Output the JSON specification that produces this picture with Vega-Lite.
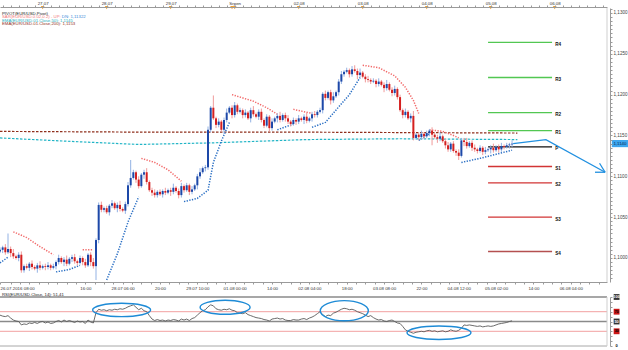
{
"$schema":"https://vega.github.io/schema/vega-lite/v6.json",
"width":607,"height":338,
"autosize":{"type":"none"},
"padding":{"left":0,"top":8,"right":21,"bottom":4},
"background":"#ffffff",
"config":{"font":"Liberation Sans","view":{"stroke":null},"axis":{"grid":false,"labelFont":"Liberation Sans"}},
"datasets":{
"one":[{}],
"candles":[
{"t":0,"o":1.1008,"h":1.1013,"l":1.1006,"c":1.1010},{"t":1,"o":1.1010,"h":1.1015,"l":1.1006,"c":1.1013},{"t":2,"o":1.1013,"h":1.1017,"l":1.1004,"c":1.1007},{"t":3,"o":1.1007,"h":1.1030,"l":1.1005,"c":1.1011},{"t":4,"o":1.1011,"h":1.1014,"l":1.1001,"c":1.1006},{"t":5,"o":1.1006,"h":1.1011,"l":1.0999,"c":1.1002},{"t":6,"o":1.1002,"h":1.1004,"l":1.0998,"c":1.1000},{"t":7,"o":1.1000,"h":1.1007,"l":1.0996,"c":1.1004},{"t":8,"o":1.1004,"h":1.1008,"l":1.0982,"c":1.0985},{"t":9,"o":1.0985,"h":1.0992,"l":1.0982,"c":1.0990},
{"t":10,"o":1.0990,"h":1.0993,"l":1.0986,"c":1.0988},{"t":11,"o":1.0988,"h":1.0995,"l":1.0984,"c":1.0993},{"t":12,"o":1.0993,"h":1.0997,"l":1.0986,"c":1.0989},{"t":13,"o":1.0989,"h":1.0991,"l":1.0985,"c":1.0987},{"t":14,"o":1.0987,"h":1.0994,"l":1.0982,"c":1.0991},{"t":15,"o":1.0991,"h":1.0996,"l":1.0985,"c":1.0988},{"t":16,"o":1.0988,"h":1.0992,"l":1.0986,"c":1.0990},{"t":17,"o":1.0990,"h":1.0993,"l":1.0985,"c":1.0989},{"t":18,"o":1.0989,"h":1.0995,"l":1.0986,"c":1.0991},{"t":19,"o":1.0991,"h":1.0993,"l":1.0985,"c":1.0988},
{"t":20,"o":1.0988,"h":1.0993,"l":1.0986,"c":1.0990},{"t":21,"o":1.0990,"h":1.0997,"l":1.0986,"c":1.0995},{"t":22,"o":1.0995,"h":1.1004,"l":1.0992,"c":1.1000},{"t":23,"o":1.1000,"h":1.1002,"l":1.0993,"c":1.0995},{"t":24,"o":1.0995,"h":1.1001,"l":1.0990,"c":1.0998},{"t":25,"o":1.0998,"h":1.1003,"l":1.0990,"c":1.0993},{"t":26,"o":1.0993,"h":1.1001,"l":1.0991,"c":1.0999},{"t":27,"o":1.0999,"h":1.1004,"l":1.0995,"c":1.1001},{"t":28,"o":1.1001,"h":1.1005,"l":1.0993,"c":1.0996},{"t":29,"o":1.0996,"h":1.0998,"l":1.0991,"c":1.0994},
{"t":30,"o":1.0994,"h":1.1003,"l":1.0992,"c":1.1000},{"t":31,"o":1.1000,"h":1.1002,"l":1.0991,"c":1.0995},{"t":32,"o":1.0995,"h":1.0999,"l":1.0988,"c":1.0991},{"t":33,"o":1.0991,"h":1.1006,"l":1.0989,"c":1.1004},{"t":34,"o":1.1004,"h":1.1007,"l":1.0990,"c":1.0995},{"t":35,"o":1.0995,"h":1.1000,"l":1.0987,"c":1.0990},{"t":36,"o":1.0990,"h":1.1024,"l":1.0973,"c":1.1022},{"t":37,"o":1.1022,"h":1.1068,"l":1.1018,"c":1.1065},{"t":38,"o":1.1065,"h":1.1069,"l":1.1056,"c":1.1059},{"t":39,"o":1.1059,"h":1.1063,"l":1.1056,"c":1.1061},
{"t":40,"o":1.1061,"h":1.1064,"l":1.1054,"c":1.1056},{"t":41,"o":1.1056,"h":1.1066,"l":1.1052,"c":1.1064},{"t":42,"o":1.1064,"h":1.1071,"l":1.1061,"c":1.1067},{"t":43,"o":1.1067,"h":1.1069,"l":1.1059,"c":1.1061},{"t":44,"o":1.1061,"h":1.1068,"l":1.1056,"c":1.1065},{"t":45,"o":1.1065,"h":1.1070,"l":1.1057,"c":1.1060},{"t":46,"o":1.1060,"h":1.1062,"l":1.1056,"c":1.1058},{"t":47,"o":1.1058,"h":1.1069,"l":1.1054,"c":1.1066},{"t":48,"o":1.1066,"h":1.1093,"l":1.1063,"c":1.1089},{"t":49,"o":1.1089,"h":1.1120,"l":1.1086,"c":1.1098},
{"t":50,"o":1.1098,"h":1.1108,"l":1.1096,"c":1.1105},{"t":51,"o":1.1105,"h":1.1107,"l":1.1092,"c":1.1096},{"t":52,"o":1.1096,"h":1.1100,"l":1.1085,"c":1.1088},{"t":53,"o":1.1088,"h":1.1104,"l":1.1086,"c":1.1102},{"t":54,"o":1.1102,"h":1.1108,"l":1.1097,"c":1.1105},{"t":55,"o":1.1105,"h":1.1110,"l":1.1090,"c":1.1093},{"t":56,"o":1.1093,"h":1.1095,"l":1.1081,"c":1.1083},{"t":57,"o":1.1083,"h":1.1086,"l":1.1076,"c":1.1080},{"t":58,"o":1.1080,"h":1.1084,"l":1.1074,"c":1.1077},{"t":59,"o":1.1077,"h":1.1083,"l":1.1074,"c":1.1081},
{"t":60,"o":1.1081,"h":1.1084,"l":1.1076,"c":1.1078},{"t":61,"o":1.1078,"h":1.1084,"l":1.1074,"c":1.1082},{"t":62,"o":1.1082,"h":1.1086,"l":1.1077,"c":1.1080},{"t":63,"o":1.1080,"h":1.1085,"l":1.1078,"c":1.1083},{"t":64,"o":1.1083,"h":1.1086,"l":1.1076,"c":1.1081},{"t":65,"o":1.1081,"h":1.1091,"l":1.1078,"c":1.1086},{"t":66,"o":1.1086,"h":1.1088,"l":1.1080,"c":1.1082},{"t":67,"o":1.1082,"h":1.1085,"l":1.1073,"c":1.1077},{"t":68,"o":1.1077,"h":1.1092,"l":1.1074,"c":1.1088},{"t":69,"o":1.1088,"h":1.1090,"l":1.1080,"c":1.1083},
{"t":70,"o":1.1083,"h":1.1092,"l":1.1081,"c":1.1089},{"t":71,"o":1.1089,"h":1.1091,"l":1.1077,"c":1.1081},{"t":72,"o":1.1081,"h":1.1088,"l":1.1078,"c":1.1084},{"t":73,"o":1.1084,"h":1.1091,"l":1.1082,"c":1.1089},{"t":74,"o":1.1089,"h":1.1103,"l":1.1084,"c":1.1100},{"t":75,"o":1.1100,"h":1.1110,"l":1.1097,"c":1.1105},{"t":76,"o":1.1105,"h":1.1112,"l":1.1103,"c":1.1110},{"t":77,"o":1.1110,"h":1.1114,"l":1.1106,"c":1.1111},{"t":78,"o":1.1111,"h":1.1161,"l":1.1108,"c":1.1157},{"t":79,"o":1.1157,"h":1.1186,"l":1.1154,"c":1.1184},
{"t":80,"o":1.1184,"h":1.1199,"l":1.1169,"c":1.1171},{"t":81,"o":1.1171,"h":1.1173,"l":1.1159,"c":1.1163},{"t":82,"o":1.1163,"h":1.1171,"l":1.1160,"c":1.1167},{"t":83,"o":1.1167,"h":1.1169,"l":1.1155,"c":1.1157},{"t":84,"o":1.1157,"h":1.1172,"l":1.1152,"c":1.1169},{"t":85,"o":1.1169,"h":1.1183,"l":1.1166,"c":1.1178},{"t":86,"o":1.1178,"h":1.1186,"l":1.1176,"c":1.1184},{"t":87,"o":1.1184,"h":1.1187,"l":1.1171,"c":1.1175},{"t":88,"o":1.1175,"h":1.1191,"l":1.1172,"c":1.1187},{"t":89,"o":1.1187,"h":1.1189,"l":1.1176,"c":1.1179},
{"t":90,"o":1.1179,"h":1.1184,"l":1.1177,"c":1.1181},{"t":91,"o":1.1181,"h":1.1183,"l":1.1171,"c":1.1175},{"t":92,"o":1.1175,"h":1.1182,"l":1.1172,"c":1.1178},{"t":93,"o":1.1178,"h":1.1180,"l":1.1169,"c":1.1171},{"t":94,"o":1.1171,"h":1.1184,"l":1.1166,"c":1.1181},{"t":95,"o":1.1181,"h":1.1186,"l":1.1173,"c":1.1176},{"t":96,"o":1.1176,"h":1.1178,"l":1.1171,"c":1.1173},{"t":97,"o":1.1173,"h":1.1182,"l":1.1169,"c":1.1179},{"t":98,"o":1.1179,"h":1.1183,"l":1.1166,"c":1.1169},{"t":99,"o":1.1169,"h":1.1171,"l":1.1159,"c":1.1162},
{"t":100,"o":1.1162,"h":1.1176,"l":1.1160,"c":1.1173},{"t":101,"o":1.1173,"h":1.1175,"l":1.1155,"c":1.1159},{"t":102,"o":1.1159,"h":1.1171,"l":1.1156,"c":1.1167},{"t":103,"o":1.1167,"h":1.1173,"l":1.1165,"c":1.1171},{"t":104,"o":1.1171,"h":1.1177,"l":1.1166,"c":1.1174},{"t":105,"o":1.1174,"h":1.1179,"l":1.1166,"c":1.1169},{"t":106,"o":1.1169,"h":1.1177,"l":1.1167,"c":1.1175},{"t":107,"o":1.1175,"h":1.1178,"l":1.1167,"c":1.1171},{"t":108,"o":1.1171,"h":1.1175,"l":1.1164,"c":1.1167},{"t":109,"o":1.1167,"h":1.1169,"l":1.1161,"c":1.1164},
{"t":110,"o":1.1164,"h":1.1172,"l":1.1162,"c":1.1169},{"t":111,"o":1.1169,"h":1.1171,"l":1.1163,"c":1.1167},{"t":112,"o":1.1167,"h":1.1175,"l":1.1164,"c":1.1171},{"t":113,"o":1.1171,"h":1.1173,"l":1.1167,"c":1.1169},{"t":114,"o":1.1169,"h":1.1176,"l":1.1164,"c":1.1173},{"t":115,"o":1.1173,"h":1.1178,"l":1.1165,"c":1.1168},{"t":116,"o":1.1168,"h":1.1173,"l":1.1166,"c":1.1171},{"t":117,"o":1.1171,"h":1.1179,"l":1.1167,"c":1.1176},{"t":118,"o":1.1176,"h":1.1180,"l":1.1172,"c":1.1175},{"t":119,"o":1.1175,"h":1.1181,"l":1.1172,"c":1.1179},
{"t":120,"o":1.1179,"h":1.1184,"l":1.1177,"c":1.1181},{"t":121,"o":1.1181,"h":1.1203,"l":1.1177,"c":1.1201},{"t":122,"o":1.1201,"h":1.1205,"l":1.1193,"c":1.1196},{"t":123,"o":1.1196,"h":1.1205,"l":1.1194,"c":1.1203},{"t":124,"o":1.1203,"h":1.1206,"l":1.1188,"c":1.1193},{"t":125,"o":1.1193,"h":1.1203,"l":1.1190,"c":1.1198},{"t":126,"o":1.1198,"h":1.1205,"l":1.1196,"c":1.1203},{"t":127,"o":1.1203,"h":1.1219,"l":1.1199,"c":1.1216},{"t":128,"o":1.1216,"h":1.1229,"l":1.1213,"c":1.1225},{"t":129,"o":1.1225,"h":1.1230,"l":1.1222,"c":1.1228},
{"t":130,"o":1.1228,"h":1.1233,"l":1.1226,"c":1.1230},{"t":131,"o":1.1230,"h":1.1232,"l":1.1221,"c":1.1225},{"t":132,"o":1.1225,"h":1.1235,"l":1.1222,"c":1.1231},{"t":133,"o":1.1231,"h":1.1236,"l":1.1227,"c":1.1229},{"t":134,"o":1.1229,"h":1.1232,"l":1.1219,"c":1.1224},{"t":135,"o":1.1224,"h":1.1232,"l":1.1221,"c":1.1227},{"t":136,"o":1.1227,"h":1.1229,"l":1.1220,"c":1.1222},{"t":137,"o":1.1222,"h":1.1225,"l":1.1215,"c":1.1219},{"t":138,"o":1.1219,"h":1.1223,"l":1.1215,"c":1.1218},{"t":139,"o":1.1218,"h":1.1220,"l":1.1213,"c":1.1216},
{"t":140,"o":1.1216,"h":1.1220,"l":1.1214,"c":1.1217},{"t":141,"o":1.1217,"h":1.1219,"l":1.1209,"c":1.1213},{"t":142,"o":1.1213,"h":1.1220,"l":1.1210,"c":1.1216},{"t":143,"o":1.1216,"h":1.1218,"l":1.1210,"c":1.1212},{"t":144,"o":1.1212,"h":1.1215,"l":1.1203,"c":1.1208},{"t":145,"o":1.1208,"h":1.1218,"l":1.1205,"c":1.1213},{"t":146,"o":1.1213,"h":1.1215,"l":1.1204,"c":1.1206},{"t":147,"o":1.1206,"h":1.1209,"l":1.1198,"c":1.1202},{"t":148,"o":1.1202,"h":1.1211,"l":1.1199,"c":1.1207},{"t":149,"o":1.1207,"h":1.1209,"l":1.1194,"c":1.1197},
{"t":150,"o":1.1197,"h":1.1200,"l":1.1179,"c":1.1181},{"t":151,"o":1.1181,"h":1.1183,"l":1.1171,"c":1.1175},{"t":152,"o":1.1175,"h":1.1183,"l":1.1172,"c":1.1179},{"t":153,"o":1.1179,"h":1.1181,"l":1.1169,"c":1.1171},{"t":154,"o":1.1171,"h":1.1177,"l":1.1166,"c":1.1174},{"t":155,"o":1.1174,"h":1.1180,"l":1.1144,"c":1.1147},{"t":156,"o":1.1147,"h":1.1153,"l":1.1145,"c":1.1151},{"t":157,"o":1.1151,"h":1.1154,"l":1.1144,"c":1.1148},{"t":158,"o":1.1148,"h":1.1156,"l":1.1145,"c":1.1152},{"t":159,"o":1.1152,"h":1.1154,"l":1.1146,"c":1.1149},
{"t":160,"o":1.1149,"h":1.1156,"l":1.1147,"c":1.1153},{"t":161,"o":1.1153,"h":1.1158,"l":1.1149,"c":1.1156},{"t":162,"o":1.1156,"h":1.1160,"l":1.1138,"c":1.1151},{"t":163,"o":1.1151,"h":1.1153,"l":1.1146,"c":1.1148},{"t":164,"o":1.1148,"h":1.1151,"l":1.1141,"c":1.1146},{"t":165,"o":1.1146,"h":1.1154,"l":1.1143,"c":1.1149},{"t":166,"o":1.1149,"h":1.1151,"l":1.1141,"c":1.1143},{"t":167,"o":1.1143,"h":1.1146,"l":1.1134,"c":1.1138},{"t":168,"o":1.1138,"h":1.1142,"l":1.1130,"c":1.1133},{"t":169,"o":1.1133,"h":1.1142,"l":1.1130,"c":1.1140},
{"t":170,"o":1.1140,"h":1.1143,"l":1.1129,"c":1.1131},{"t":171,"o":1.1131,"h":1.1133,"l":1.1125,"c":1.1129},{"t":172,"o":1.1129,"h":1.1133,"l":1.1120,"c":1.1125},{"t":173,"o":1.1125,"h":1.1147,"l":1.1123,"c":1.1144},{"t":174,"o":1.1144,"h":1.1147,"l":1.1137,"c":1.1142},{"t":175,"o":1.1142,"h":1.1147,"l":1.1134,"c":1.1137},{"t":176,"o":1.1137,"h":1.1143,"l":1.1135,"c":1.1141},{"t":177,"o":1.1141,"h":1.1144,"l":1.1131,"c":1.1135},{"t":178,"o":1.1135,"h":1.1139,"l":1.1130,"c":1.1133},{"t":179,"o":1.1133,"h":1.1135,"l":1.1128,"c":1.1131},
{"t":180,"o":1.1131,"h":1.1138,"l":1.1129,"c":1.1135},{"t":181,"o":1.1135,"h":1.1137,"l":1.1126,"c":1.1130},{"t":182,"o":1.1130,"h":1.1136,"l":1.1127,"c":1.1132},{"t":183,"o":1.1132,"h":1.1135,"l":1.1130,"c":1.1133},{"t":184,"o":1.1133,"h":1.1138,"l":1.1128,"c":1.1135},{"t":185,"o":1.1135,"h":1.1140,"l":1.1129,"c":1.1132},{"t":186,"o":1.1132,"h":1.1138,"l":1.1130,"c":1.1136},{"t":187,"o":1.1136,"h":1.1139,"l":1.1129,"c":1.1133},{"t":188,"o":1.1133,"h":1.1141,"l":1.1130,"c":1.1137},{"t":189,"o":1.1137,"h":1.1139,"l":1.1133,"c":1.1136},
{"t":190,"o":1.1136,"h":1.1141,"l":1.1134,"c":1.1138},{"t":191,"o":1.1138,"h":1.1141,"l":1.1134,"c":1.1139},{"t":192,"o":1.1139,"h":1.1144,"l":1.1136,"c":1.1140}
],
"sar":[
{"seg":"d0","dir":"DN","t":0,"v":1.0994},{"seg":"d0","dir":"DN","t":3,"v":1.1001},
{"seg":"u1","dir":"UP","t":5,"v":1.1032},{"seg":"u1","dir":"UP","t":10,"v":1.1025},{"seg":"u1","dir":"UP","t":15,"v":1.1014},{"seg":"u1","dir":"UP","t":20,"v":1.1004},
{"seg":"d1","dir":"DN","t":21,"v":1.0983},{"seg":"d1","dir":"DN","t":26,"v":1.0986},{"seg":"d1","dir":"DN","t":30,"v":1.0991},
{"seg":"u2","dir":"UP","t":31,"v":1.1010},{"seg":"u2","dir":"UP","t":35,"v":1.1010},
{"seg":"d2","dir":"DN","t":40,"v":1.0973},{"seg":"d2","dir":"DN","t":44,"v":1.1005},{"seg":"d2","dir":"DN","t":48,"v":1.1044},{"seg":"d2","dir":"DN","t":52,"v":1.1075},
{"seg":"u3","dir":"UP","t":53,"v":1.1122},{"seg":"u3","dir":"UP","t":58,"v":1.1117},{"seg":"u3","dir":"UP","t":63,"v":1.1108},{"seg":"u3","dir":"UP","t":68,"v":1.1094},
{"seg":"d3","dir":"DN","t":69,"v":1.1069},{"seg":"d3","dir":"DN","t":74,"v":1.1073},{"seg":"d3","dir":"DN","t":78,"v":1.1083},{"seg":"d3","dir":"DN","t":80,"v":1.1117},{"seg":"d3","dir":"DN","t":83,"v":1.1143},{"seg":"d3","dir":"DN","t":86,"v":1.1166},
{"seg":"u4","dir":"UP","t":87,"v":1.1200},{"seg":"u4","dir":"UP","t":95,"v":1.1192},{"seg":"u4","dir":"UP","t":100,"v":1.1184},{"seg":"u4","dir":"UP","t":104,"v":1.1176},
{"seg":"d4","dir":"DN","t":104,"v":1.1157},{"seg":"d4","dir":"DN","t":110,"v":1.1164},
{"seg":"u5","dir":"UP","t":110,"v":1.1182},{"seg":"u5","dir":"UP","t":117,"v":1.1177},
{"seg":"d5","dir":"DN","t":117,"v":1.1160},{"seg":"d5","dir":"DN","t":122,"v":1.1166},{"seg":"d5","dir":"DN","t":127,"v":1.1185},{"seg":"d5","dir":"DN","t":131,"v":1.1200},{"seg":"d5","dir":"DN","t":135,"v":1.1221},
{"seg":"u6","dir":"UP","t":136,"v":1.1236},{"seg":"u6","dir":"UP","t":142,"v":1.1233},{"seg":"u6","dir":"UP","t":148,"v":1.1223},{"seg":"u6","dir":"UP","t":152,"v":1.1209},{"seg":"u6","dir":"UP","t":155,"v":1.1193},{"seg":"u6","dir":"UP","t":157,"v":1.1177},
{"seg":"d6","dir":"DN","t":157,"v":1.1144},{"seg":"d6","dir":"DN","t":161,"v":1.1152},
{"seg":"u7","dir":"UP","t":161,"v":1.1157},{"seg":"u7","dir":"UP","t":166,"v":1.1155},{"seg":"u7","dir":"UP","t":170,"v":1.1150},{"seg":"u7","dir":"UP","t":172,"v":1.1147},
{"seg":"d7","dir":"DN","t":173,"v":1.1117},{"seg":"d7","dir":"DN","t":180,"v":1.1122},{"seg":"d7","dir":"DN","t":186,"v":1.1127},{"seg":"d7","dir":"DN","t":192,"v":1.1132}
],
"ema":[
{"e":"EMA200","t":0,"v":1.1155},{"e":"EMA200","t":60,"v":1.1154},{"e":"EMA200","t":120,"v":1.1154},{"e":"EMA200","t":194,"v":1.1153},
{"e":"EMA50","t":0,"v":1.1147},{"e":"EMA50","t":25,"v":1.1143},{"e":"EMA50","t":52,"v":1.1139},{"e":"EMA50","t":80,"v":1.1141},{"e":"EMA50","t":115,"v":1.1145},{"e":"EMA50","t":150,"v":1.1146},{"e":"EMA50","t":194,"v":1.1145}
],
"pivots":[
{"lvl":"R4","v":1.1264},{"lvl":"R3","v":1.1221},{"lvl":"R2","v":1.1178},{"lvl":"R1","v":1.1156},{"lvl":"P","v":1.1136},{"lvl":"S1","v":1.1112},{"lvl":"S2","v":1.1092},{"lvl":"S3","v":1.1050},{"lvl":"S4","v":1.1008}
],
"arrow":[
{"part":"a","t":192.4,"v":1.1140},{"part":"a","t":204.7,"v":1.1145},{"part":"a","t":226.9,"v":1.1105},
{"part":"w1","t":224.8,"v":1.1116},{"part":"w1","t":226.9,"v":1.1105},
{"part":"w2","t":223.1,"v":1.1105},{"part":"w2","t":226.9,"v":1.1105}
],
"days":[{"t":16},{"t":40},{"t":64},{"t":87},{"t":88},{"t":112},{"t":136},{"t":160},{"t":184},{"t":208}],
"rsi":[
{"t":0,"v":63},{"t":1,"v":61},{"t":2,"v":60},{"t":3,"v":62},{"t":4,"v":57},{"t":5,"v":53},{"t":6,"v":51},{"t":7,"v":50},{"t":8,"v":43},{"t":9,"v":45},
{"t":10,"v":44},{"t":11,"v":47},{"t":12,"v":46},{"t":13,"v":48},{"t":14,"v":46},{"t":15,"v":49},{"t":16,"v":50},{"t":17,"v":47},{"t":18,"v":49},{"t":19,"v":46},
{"t":20,"v":47},{"t":21,"v":50},{"t":22,"v":52},{"t":23,"v":49},{"t":24,"v":53},{"t":25,"v":50},{"t":26,"v":52},{"t":27,"v":50},{"t":28,"v":48},{"t":29,"v":51},
{"t":30,"v":49},{"t":31,"v":50},{"t":32,"v":46},{"t":33,"v":53},{"t":34,"v":49},{"t":35,"v":47},{"t":36,"v":68},{"t":37,"v":75},{"t":38,"v":73},{"t":39,"v":74},
{"t":40,"v":72},{"t":41,"v":74},{"t":42,"v":73},{"t":43,"v":75},{"t":44,"v":74},{"t":45,"v":76},{"t":46,"v":75},{"t":47,"v":77},{"t":48,"v":80},{"t":49,"v":82},
{"t":50,"v":84},{"t":51,"v":79},{"t":52,"v":74},{"t":53,"v":77},{"t":54,"v":72},{"t":55,"v":70},{"t":56,"v":62},{"t":57,"v":55},{"t":58,"v":52},{"t":59,"v":54},
{"t":60,"v":52},{"t":61,"v":53},{"t":62,"v":51},{"t":63,"v":53},{"t":64,"v":52},{"t":65,"v":54},{"t":66,"v":53},{"t":67,"v":51},{"t":68,"v":55},{"t":69,"v":53},
{"t":70,"v":55},{"t":71,"v":52},{"t":72,"v":56},{"t":73,"v":58},{"t":74,"v":63},{"t":75,"v":68},{"t":76,"v":72},{"t":77,"v":74},{"t":78,"v":80},{"t":79,"v":84},
{"t":80,"v":82},{"t":81,"v":76},{"t":82,"v":74},{"t":83,"v":73},{"t":84,"v":75},{"t":85,"v":74},{"t":86,"v":76},{"t":87,"v":73},{"t":88,"v":72},{"t":89,"v":68},
{"t":90,"v":67},{"t":91,"v":66},{"t":92,"v":68},{"t":93,"v":64},{"t":94,"v":62},{"t":95,"v":60},{"t":96,"v":58},{"t":97,"v":57},{"t":98,"v":56},{"t":99,"v":54},
{"t":100,"v":53},{"t":101,"v":51},{"t":102,"v":55},{"t":103,"v":56},{"t":104,"v":57},{"t":105,"v":55},{"t":106,"v":56},{"t":107,"v":53},{"t":108,"v":52},{"t":109,"v":52},
{"t":110,"v":54},{"t":111,"v":53},{"t":112,"v":53},{"t":113,"v":55},{"t":114,"v":56},{"t":115,"v":54},{"t":116,"v":57},{"t":117,"v":59},{"t":118,"v":62},{"t":119,"v":66},
{"t":120,"v":70},{"t":121,"v":64},{"t":122,"v":60},{"t":123,"v":63},{"t":124,"v":62},{"t":125,"v":67},{"t":126,"v":69},{"t":127,"v":72},{"t":128,"v":75},{"t":129,"v":77},
{"t":130,"v":76},{"t":131,"v":74},{"t":132,"v":75},{"t":133,"v":73},{"t":134,"v":70},{"t":135,"v":68},{"t":136,"v":66},{"t":137,"v":63},{"t":138,"v":60},{"t":139,"v":62},
{"t":140,"v":58},{"t":141,"v":55},{"t":142,"v":53},{"t":143,"v":54},{"t":144,"v":51},{"t":145,"v":50},{"t":146,"v":52},{"t":147,"v":53},{"t":148,"v":50},{"t":149,"v":47},
{"t":150,"v":46},{"t":151,"v":40},{"t":152,"v":33},{"t":153,"v":30},{"t":154,"v":28},{"t":155,"v":26},{"t":156,"v":28},{"t":157,"v":29},{"t":158,"v":30},{"t":159,"v":29},
{"t":160,"v":31},{"t":161,"v":32},{"t":162,"v":30},{"t":163,"v":31},{"t":164,"v":29},{"t":165,"v":30},{"t":166,"v":31},{"t":167,"v":29},{"t":168,"v":30},{"t":169,"v":33},
{"t":170,"v":31},{"t":171,"v":30},{"t":172,"v":32},{"t":173,"v":36},{"t":174,"v":43},{"t":175,"v":42},{"t":176,"v":43},{"t":177,"v":42},{"t":178,"v":41},{"t":179,"v":40},
{"t":180,"v":41},{"t":181,"v":39},{"t":182,"v":40},{"t":183,"v":41},{"t":184,"v":40},{"t":185,"v":41},{"t":186,"v":43},{"t":187,"v":45},{"t":188,"v":46},{"t":189,"v":47},
{"t":190,"v":48},{"t":191,"v":50},{"t":192,"v":51.4}
],
"rsiLevels":[{"v":100},{"v":70},{"v":50},{"v":30},{"v":0}],
"rsiTags":[{"v":100},{"v":70},{"v":50},{"v":30}]
},
"layer":[
{"data":{"name":"ema"},
 "mark":{"type":"line","strokeWidth":1.2,"strokeDash":[2.5,1.5]},
 "encoding":{
  "x":{"field":"t","type":"quantitative","scale":{"domain":[0,227.6],"nice":false,"zero":false},
   "axis":{"orient":"top","offset":1,"title":null,"zindex":1,"values":[1,4,7,10,13,16,19,22,25,28,31,34,37,40,43,46,49,52,55,58,61,64,67,70,73,76,79,82,85,88,91,94,97,100,103,106,109,112,115,118,121,124,127,130,133,136,139,142,145,148,151,154,157,160,163,166,169,172,175,178,181,184,187,190,193,196,199,202,205,208,211,214,217,220,223,226],
    "labelExpr":"datum.value==16?'27.07':datum.value==40?'28.07':datum.value==64?'29.07':datum.value==88?'Srpen':datum.value==112?'02.08':datum.value==136?'03.08':datum.value==160?'04.08':datum.value==184?'05.08':datum.value==208?'06.08':''",
    "tickSize":2,"labelFontSize":4.4,"labelPadding":0,"labelColor":"#333","domainColor":"#9a9a9a","tickColor":"#9a9a9a","labelOverlap":false,"labelFlush":false}},
  "y":{"field":"v","type":"quantitative","scale":{"domain":[1.09706,1.13061],"range":[274,0],"nice":false,"zero":false},
   "axis":{"orient":"right","offset":3,"title":null,"zindex":1,"values":[1.0975,1.098,1.0985,1.099,1.0995,1.1,1.1005,1.101,1.1015,1.102,1.1025,1.103,1.1035,1.104,1.1045,1.105,1.1055,1.106,1.1065,1.107,1.1075,1.108,1.1085,1.109,1.1095,1.11,1.1105,1.111,1.1115,1.112,1.1125,1.113,1.1135,1.114,1.1145,1.115,1.1155,1.116,1.1165,1.117,1.1175,1.118,1.1185,1.119,1.1195,1.12,1.1205,1.121,1.1215,1.122,1.1225,1.123,1.1235,1.124,1.1245,1.125,1.1255,1.126,1.1265,1.127,1.1275,1.128,1.1285,1.129,1.1295,1.13,1.1305],
    "labelExpr":"abs(datum.value*200-round(datum.value*200))<0.01 ? replace(format(datum.value,'.4f'),'.',',') : ''",
    "tickSize":2,"labelFontSize":4.6,"labelPadding":1,"labelColor":"#444","domainColor":"#9a9a9a","tickColor":"#9a9a9a","labelOverlap":false}},
  "detail":{"field":"e"},
  "color":{"condition":{"test":"datum.e=='EMA50'","value":"#22b5c6"},"value":"#8f2f1c"}}},
{"data":{"name":"pivots"},
 "mark":{"type":"rule","strokeWidth":1.4},
 "encoding":{
  "x":{"datum":183,"type":"quantitative","scale":{"domain":[0,227.6],"nice":false,"zero":false},"axis":null},
  "x2":{"datum":207},
  "y":{"field":"v","type":"quantitative","scale":{"domain":[1.09706,1.13061],"range":[274,0],"nice":false,"zero":false},"axis":null},
  "color":{"condition":[{"test":"datum.lvl=='P'","value":"#111111"},{"test":"datum.lvl=='S4'","value":"#b45050"},{"test":"indexof(['R1','R2','R3','R4'],datum.lvl)>=0","value":"#52c752"}],"value":"#d23434"}}},
{"data":{"name":"pivots"},
 "mark":{"type":"text","align":"left","baseline":"middle","dy":2.5,"fontSize":4.6,"fontWeight":"bold","color":"#111"},
 "encoding":{
  "x":{"datum":208.2,"type":"quantitative","scale":{"domain":[0,227.6],"nice":false,"zero":false},"axis":null},
  "y":{"field":"v","type":"quantitative","scale":{"domain":[1.09706,1.13061],"range":[274,0],"nice":false,"zero":false},"axis":null},
  "text":{"field":"lvl"}}},
{"data":{"name":"sar"},
 "mark":{"type":"line","strokeWidth":1.5,"strokeDash":[1.3,1.4]},
 "encoding":{
  "x":{"field":"t","type":"quantitative","scale":{"domain":[0,227.6],"nice":false,"zero":false},"axis":null},
  "y":{"field":"v","type":"quantitative","scale":{"domain":[1.09706,1.13061],"range":[274,0],"nice":false,"zero":false},"axis":null},
  "detail":{"field":"seg"},
  "color":{"condition":{"test":"datum.dir=='UP'","value":"#f26a6a"},"value":"#2a6fc4"}}},
{"data":{"name":"candles"},
 "mark":{"type":"rule","strokeWidth":1},
 "encoding":{
  "x":{"field":"t","type":"quantitative","scale":{"domain":[0,227.6],"nice":false,"zero":false},"axis":null},
  "y":{"field":"l","type":"quantitative","scale":{"domain":[1.09706,1.13061],"range":[274,0],"nice":false,"zero":false},"axis":null},
  "y2":{"field":"h"},
  "color":{"condition":{"test":"datum.c>=datum.o","value":"#93b2e4"},"value":"#f09a9a"}}},
{"data":{"name":"candles"},
 "mark":{"type":"rule","strokeWidth":2,"strokeCap":"butt"},
 "encoding":{
  "x":{"field":"t","type":"quantitative","scale":{"domain":[0,227.6],"nice":false,"zero":false},"axis":null},
  "y":{"field":"o","type":"quantitative","scale":{"domain":[1.09706,1.13061],"range":[274,0],"nice":false,"zero":false},"axis":null},
  "y2":{"field":"c"},
  "color":{"condition":{"test":"datum.c>=datum.o","value":"#1d48a8"},"value":"#d42020"}}},
{"data":{"name":"arrow"},
 "mark":{"type":"line","strokeWidth":1.3,"color":"#2190e0"},
 "encoding":{
  "x":{"field":"t","type":"quantitative","scale":{"domain":[0,227.6],"nice":false,"zero":false},"axis":null},
  "y":{"field":"v","type":"quantitative","scale":{"domain":[1.09706,1.13061],"range":[274,0],"nice":false,"zero":false},"axis":null},
  "detail":{"field":"part"}}},
{"data":{"name":"days"},
 "mark":{"type":"point","shape":"triangle-down","filled":true,"size":14,"color":"#f0a030","opacity":1},
 "encoding":{
  "x":{"field":"t","type":"quantitative","scale":{"domain":[0,227.6],"nice":false,"zero":false},"axis":null},
  "y":{"datum":1.13067,"type":"quantitative","scale":{"domain":[1.09706,1.13061],"range":[274,0],"nice":false,"zero":false},"axis":null}}},
{"data":{"name":"one"},
 "mark":{"type":"text","text":"PIVOT(EUR/USD,Pivot)","align":"left","baseline":"middle","fontSize":4.3,"color":"#222"},
 "encoding":{"x":{"datum":0.75,"type":"quantitative","scale":{"domain":[0,227.6],"nice":false,"zero":false},"axis":null},
  "y":{"datum":1.12988,"type":"quantitative","scale":{"domain":[1.09706,1.13061],"range":[274,0],"nice":false,"zero":false},"axis":null}}},
{"data":{"name":"one"},
 "mark":{"type":"text","text":"SAR(EUR/USD.0.02,0.2) - UP:","align":"left","baseline":"middle","fontSize":4.3,"color":"#f07878"},
 "encoding":{"x":{"datum":0.75,"type":"quantitative","scale":{"domain":[0,227.6],"nice":false,"zero":false},"axis":null},
  "y":{"datum":1.12945,"type":"quantitative","scale":{"domain":[1.09706,1.13061],"range":[274,0],"nice":false,"zero":false},"axis":null}}},
{"data":{"name":"one"},
 "mark":{"type":"text","text":"DN: 1,11322","align":"left","baseline":"middle","fontSize":4.3,"color":"#3a8ad8"},
 "encoding":{"x":{"datum":23.2,"type":"quantitative","scale":{"domain":[0,227.6],"nice":false,"zero":false},"axis":null},
  "y":{"datum":1.12945,"type":"quantitative","scale":{"domain":[1.09706,1.13061],"range":[274,0],"nice":false,"zero":false},"axis":null}}},
{"data":{"name":"one"},
 "mark":{"type":"text","text":"EMA(EUR/USD.01.Close,50): 1,1145","align":"left","baseline":"middle","fontSize":4.3,"color":"#22b0c0"},
 "encoding":{"x":{"datum":0.75,"type":"quantitative","scale":{"domain":[0,227.6],"nice":false,"zero":false},"axis":null},
  "y":{"datum":1.12902,"type":"quantitative","scale":{"domain":[1.09706,1.13061],"range":[274,0],"nice":false,"zero":false},"axis":null}}},
{"data":{"name":"one"},
 "mark":{"type":"text","text":"EMA(EUR/USD.01.Close,200): 1,1153","align":"left","baseline":"middle","fontSize":4.3,"color":"#8f2f1c"},
 "encoding":{"x":{"datum":0.75,"type":"quantitative","scale":{"domain":[0,227.6],"nice":false,"zero":false},"axis":null},
  "y":{"datum":1.12859,"type":"quantitative","scale":{"domain":[1.09706,1.13061],"range":[274,0],"nice":false,"zero":false},"axis":null}}},
{"data":{"name":"one"},
 "mark":{"type":"rule","color":"#cfcfcf","strokeWidth":1},
 "encoding":{"x":{"datum":227.6,"type":"quantitative","scale":{"domain":[0,227.6],"nice":false,"zero":false},"axis":null},
  "y":{"datum":1.09706,"type":"quantitative","scale":{"domain":[1.09706,1.13061],"range":[274,0],"nice":false,"zero":false},"axis":null},
  "y2":{"datum":1.13061}}},
{"data":{"name":"one"},
 "mark":{"type":"rect","color":"#3ea6ee"},
 "encoding":{"x":{"datum":229.4,"type":"quantitative","scale":{"domain":[0,227.6],"nice":false,"zero":false},"axis":null},
  "x2":{"datum":235.5},
  "y":{"datum":1.11357,"type":"quantitative","scale":{"domain":[1.09706,1.13061],"range":[274,0],"nice":false,"zero":false},"axis":null},
  "y2":{"datum":1.11445}}},
{"data":{"name":"one"},
 "mark":{"type":"text","text":"1,1140","align":"center","baseline":"middle","fontSize":4.4,"color":"#07284f"},
 "encoding":{"x":{"datum":232.45,"type":"quantitative","scale":{"domain":[0,227.6],"nice":false,"zero":false},"axis":null},
  "y":{"datum":1.11401,"type":"quantitative","scale":{"domain":[1.09706,1.13061],"range":[274,0],"nice":false,"zero":false},"axis":null}}},
{"data":{"name":"rsiLevels"},
 "mark":{"type":"rule"},
 "encoding":{
  "y":{"field":"v","type":"quantitative","scale":{"domain":[0,100],"range":[338,289],"nice":false,"zero":false},"axis":null},
  "color":{"condition":[{"test":"datum.v==70||datum.v==30","value":"#f2a0a0"},{"test":"datum.v==0","value":"#a8a8a8"}],"value":"#8a8a8a"},
  "strokeWidth":{"condition":{"test":"datum.v==70||datum.v==30||datum.v==0","value":1},"value":1.6}}},
{"data":{"name":"rsi"},
 "mark":{"type":"line","strokeWidth":0.9,"color":"#5a5a5a"},
 "encoding":{
  "x":{"field":"t","type":"quantitative","scale":{"domain":[0,227.6],"nice":false,"zero":false},
   "axis":{"orient":"bottom","offset":-64,"title":null,"zindex":1,"values":[0,4,7.5,11,14.5,18,21.5,25,28.5,32,35.5,39,42.5,46,49.5,53,56.5,60,63.5,67,70.5,74,77.5,81,84.5,88,91.5,95,98.5,102,105.5,109,112.5,116,119.5,123,126.5,130,133.5,137,140.5,144,147.5,151,154.5,158,161.5,165,168.5,172,175.5,179,182.5,186,189.5,193,196.5,200,203.5,207,210.5,214,217.5,221,224.5],
    "labelExpr":"datum.value==0?'26.07.2016 08:00':datum.value==32?'16:00':datum.value==46?'28.07 06:00':datum.value==60?'20:00':datum.value==74?'29.07 10:00':datum.value==88?'01.08 00:00':datum.value==102?'14:00':datum.value==116?'02.08 04:00':datum.value==130?'18:00':datum.value==144?'03.08 08:00':datum.value==158?'22:00':datum.value==172?'04.08 12:00':datum.value==186?'05.08 02:00':datum.value==200?'14:00':datum.value==214?'06.08 04:00':''",
    "tickSize":2,"labelFontSize":4.4,"labelPadding":2,"labelColor":"#333","domainColor":"#9a9a9a","tickColor":"#9a9a9a","labelOverlap":false,"labelFlush":true}},
  "y":{"field":"v","type":"quantitative","scale":{"domain":[0,100],"range":[338,289],"nice":false,"zero":false},
   "axis":{"orient":"right","offset":3,"title":null,"zindex":1,"values":[0,10,20,30,40,50,60,70,80,90,100],"labels":false,"tickSize":2,"domainColor":"#9a9a9a","tickColor":"#9a9a9a"}}}},
{"data":{"values":[{"t":45.6,"v":73.5}]},
 "mark":{"type":"point","shape":"M-1,0C-1,-0.127,-0.552,-0.23,0,-0.23C0.552,-0.23,1,-0.127,1,0C1,0.127,0.552,0.23,0,0.23C-0.552,0.23,-1,0.127,-1,0Z","size":3364,"filled":false,"stroke":"#1e8bd6","strokeWidth":1.4,"opacity":1},
 "encoding":{"x":{"field":"t","type":"quantitative","scale":{"domain":[0,227.6],"nice":false,"zero":false},"axis":null},
  "y":{"field":"v","type":"quantitative","scale":{"domain":[0,100],"range":[338,289],"nice":false,"zero":false},"axis":null}}},
{"data":{"values":[{"t":84.4,"v":79}]},
 "mark":{"type":"point","shape":"M-1,0C-1,-0.155,-0.552,-0.28,0,-0.28C0.552,-0.28,1,-0.155,1,0C1,0.155,0.552,0.28,0,0.28C-0.552,0.28,-1,0.155,-1,0Z","size":2500,"filled":false,"stroke":"#1e8bd6","strokeWidth":1.4,"opacity":1},
 "encoding":{"x":{"field":"t","type":"quantitative","scale":{"domain":[0,227.6],"nice":false,"zero":false},"axis":null},
  "y":{"field":"v","type":"quantitative","scale":{"domain":[0,100],"range":[338,289],"nice":false,"zero":false},"axis":null}}},
{"data":{"values":[{"t":129.1,"v":72}]},
 "mark":{"type":"point","shape":"M-1,0C-1,-0.232,-0.552,-0.42,0,-0.42C0.552,-0.42,1,-0.232,1,0C1,0.232,0.552,0.42,0,0.42C-0.552,0.42,-1,0.232,-1,0Z","size":2304,"filled":false,"stroke":"#1e8bd6","strokeWidth":1.4,"opacity":1},
 "encoding":{"x":{"field":"t","type":"quantitative","scale":{"domain":[0,227.6],"nice":false,"zero":false},"axis":null},
  "y":{"field":"v","type":"quantitative","scale":{"domain":[0,100],"range":[338,289],"nice":false,"zero":false},"axis":null}}},
{"data":{"values":[{"t":164.6,"v":27}]},
 "mark":{"type":"point","shape":"M-1,0C-1,-0.116,-0.552,-0.21,0,-0.21C0.552,-0.21,1,-0.116,1,0C1,0.116,0.552,0.21,0,0.21C-0.552,0.21,-1,0.116,-1,0Z","size":4096,"filled":false,"stroke":"#1e8bd6","strokeWidth":1.4,"opacity":1},
 "encoding":{"x":{"field":"t","type":"quantitative","scale":{"domain":[0,227.6],"nice":false,"zero":false},"axis":null},
  "y":{"field":"v","type":"quantitative","scale":{"domain":[0,100],"range":[338,289],"nice":false,"zero":false},"axis":null}}},
{"data":{"name":"one"},
 "mark":{"type":"text","text":"RSI(EUR/USD.Close, 14): 51,41","align":"left","baseline":"middle","fontSize":4.3,"color":"#222"},
 "encoding":{"x":{"datum":0.75,"type":"quantitative","scale":{"domain":[0,227.6],"nice":false,"zero":false},"axis":null},
  "y":{"datum":104,"type":"quantitative","scale":{"domain":[0,100],"range":[338,289],"nice":false,"zero":false},"axis":null}}},
{"data":{"name":"one"},
 "mark":{"type":"rule","color":"#cfcfcf","strokeWidth":1},
 "encoding":{"x":{"datum":227.6,"type":"quantitative","scale":{"domain":[0,227.6],"nice":false,"zero":false},"axis":null},
  "y":{"datum":0,"type":"quantitative","scale":{"domain":[0,100],"range":[338,289],"nice":false,"zero":false},"axis":null},
  "y2":{"datum":100}}},
{"data":{"name":"rsiTags"},
 "mark":{"type":"point","shape":"square","filled":true,"size":34,"opacity":1},
 "encoding":{"x":{"datum":231.2,"type":"quantitative","scale":{"domain":[0,227.6],"nice":false,"zero":false},"axis":null},
  "y":{"field":"v","type":"quantitative","scale":{"domain":[0,100],"range":[338,289],"nice":false,"zero":false},"axis":null},
  "color":{"condition":{"test":"datum.v==70||datum.v==30","value":"#cc1515"},"value":"#333333"}}},
{"data":{"name":"rsiLevels"},
 "mark":{"type":"text","align":"center","baseline":"middle","fontSize":4,"fontWeight":"bold"},
 "encoding":{"x":{"datum":231.2,"type":"quantitative","scale":{"domain":[0,227.6],"nice":false,"zero":false},"axis":null},
  "y":{"field":"v","type":"quantitative","scale":{"domain":[0,100],"range":[338,289],"nice":false,"zero":false},"axis":null},
  "text":{"field":"v","type":"quantitative"},
  "color":{"condition":{"test":"datum.v==70||datum.v==30||datum.v==0","value":"#000000"},"value":"#ffffff"}}}
],
"resolve":{"scale":{"y":"independent"},"axis":{"x":"independent","y":"independent"}}
}
